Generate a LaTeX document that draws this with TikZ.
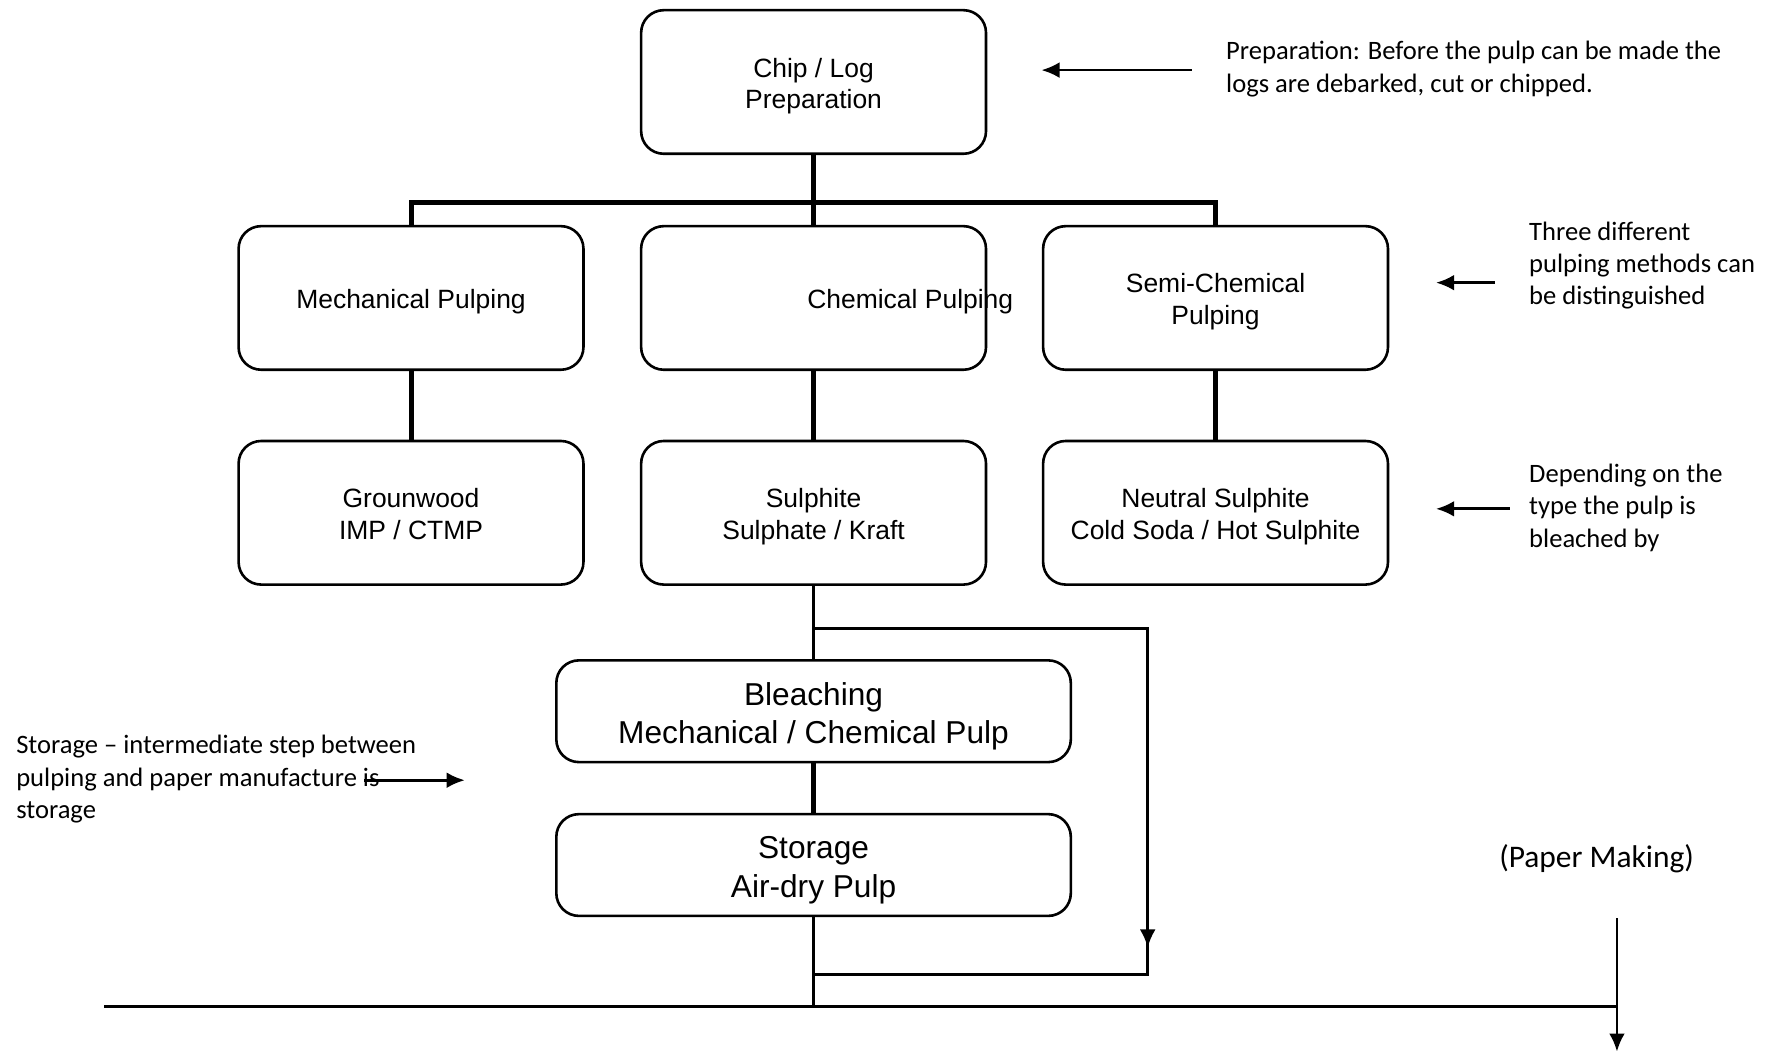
\documentclass[tikz,border=0pt]{standalone}
\usepackage{fontspec}
\setmainfont{Liberation Sans}
\newfontfamily\notefont{Carlito}
\usetikzlibrary{arrows.meta}
\newcommand{\toppad}{\rule{0pt}{1.03em}}
\newcommand{\botpad}{\rule[-0.21em]{0pt}{0.21em}}

\begin{document}
\begin{tikzpicture}[x=0.5pt,y=-0.5pt,
  stage/.style={draw,line width=1.15pt,rounded corners=10pt,minimum width=152.5pt,
    minimum height=63.5pt,align=center,inner sep=0pt,font=\fontsize{11.7}{14}\selectfont},
  widestage/.style={stage,minimum width=227.5pt,minimum height=45pt,
    font=\fontsize{14}{17}\selectfont},
  tree/.style={line width=2.2pt},
  flow/.style={line width=1.2pt},
  pointer/.style={line width=1.2pt,-{Latex[length=8pt,width=7pt]}},
  note/.style={align=left,inner sep=0pt,font=\notefont\fontsize{11.75}{14.25}\selectfont}]
  \useasboundingbox (0,0) rectangle (1568,930);
  % process boxes
  \node[stage] (chip) at (719.5,72.5) {\toppad Chip / Log\\Preparation};
  \node[stage] (mech) at (363.5,263.5) {\toppad Mechanical Pulping};
  \node[stage] (chem) at (719.5,263.5) {};
  \node[stage,draw=none] (chemtxt) at (805,263.5) {\toppad Chemical Pulping};
  \node[stage] (semi) at (1075,263.5) {\toppad Semi-Chemical\\Pulping};
  \node[stage] (grnd) at (363.5,453.5) {\toppad Grounwood\\IMP / CTMP\botpad};
  \node[stage] (sulph) at (719.5,453.5) {\toppad Sulphite\\Sulphate / Kraft};
  \node[stage] (neut) at (1075,453.5) {\toppad Neutral Sulphite\\Cold Soda / Hot Sulphite};
  \node[widestage] (bleach) at (719.5,629) {\toppad Bleaching\\Mechanical / Chemical Pulp};
  \node[widestage] (store) at (719.5,765) {\toppad Storage\\Air-dry Pulp};
  % branching into the three methods
  \coordinate (bar) at (719.5,179);
  \draw[tree] (chip) -- (chem);
  \draw[tree] (mech.north) |- (bar) -| (semi.north);
  \draw[tree] (mech) -- (grnd);
  \draw[tree] (chem) -- (sulph);
  \draw[tree] (semi) -- (neut);
  % bleaching, storage and the bypass loop
  \coordinate (split) at (719.5,556);
  \coordinate (loopR) at (1015,556);
  \coordinate (loopTip) at (1015,838);
  \coordinate (loopB) at (1015,862);
  \coordinate (join) at (719.5,862);
  \draw[flow] (sulph) -- (bleach);
  \draw[tree] (bleach) -- (store);
  \draw[flow] (split) -- (loopR) -- (loopTip);
  \draw[pointer] (loopR) -- (loopTip);
  \draw[flow] (loopTip) -- (loopB) -- (join);
  % feed line to paper making
  \coordinate (feedL) at (92,890);
  \coordinate (feedR) at (1430,890);
  \coordinate (pmtop) at (1430,812);
  \coordinate (pmend) at (1430,930);
  \draw[flow] (store.south) -- (store.south |- feedL);
  \draw[flow] (feedL) -- (feedR);
  \draw[pointer] (pmtop) -- (pmend);
  \node[note,anchor=center,font=\notefont\fontsize{13.9}{16}\selectfont] (pm) at (1412,759) {(Paper Making)};
  % side notes and their arrows
  \node[note,anchor=west] (prepnote) at (1084,61)
    {Preparation: Before the pulp can be made the\\logs are debarked, cut or chipped.};
  \node[note,anchor=west] (methnote) at (1352,235)
    {Three different\\pulping methods can\\be distinguished};
  \node[note,anchor=west] (typenote) at (1352,449)
    {Depending on the\\type the pulp is\\bleached by};
  \node[note,anchor=west] (storenote) at (14,689)
    {Storage – intermediate step between\\pulping and paper manufacture is\\storage};
  \coordinate (prepA) at (1054,62);
  \coordinate (prepB) at (921,62);
  \coordinate (methA) at (1322,250);
  \coordinate (methB) at (1270,250);
  \coordinate (typeA) at (1335,450);
  \coordinate (typeB) at (1270,450);
  \coordinate (storeA) at (322,690);
  \coordinate (storeB) at (411,690);
  \draw[pointer] (prepA) -- (prepB);
  \draw[pointer] (methA) -- (methB);
  \draw[pointer] (typeA) -- (typeB);
  \draw[pointer] (storeA) -- (storeB);
\end{tikzpicture}
\end{document}
